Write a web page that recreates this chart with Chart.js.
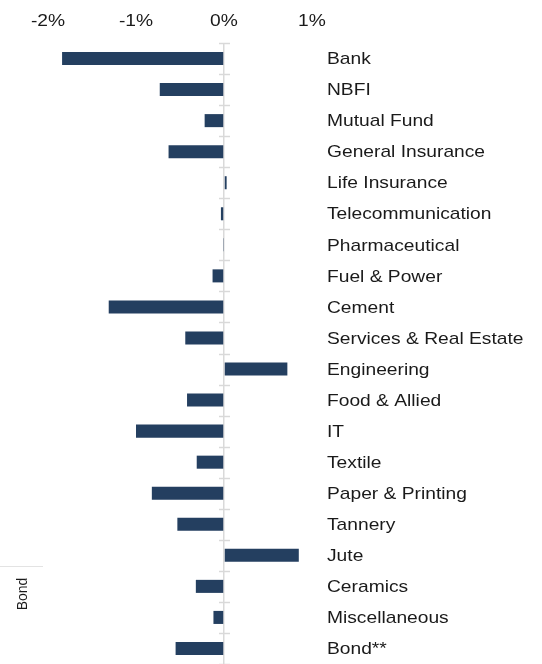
<!DOCTYPE html>
<html>
<head>
<meta charset="utf-8">
<script src="https://cdn.jsdelivr.net/npm/chart.js@4"></script>
<style>
  html, body { margin: 0; padding: 0; background: #fff; }
  #wrap { position: relative; width: 542px; height: 664px; }
</style>
</head>
<body>
<div id="wrap"><canvas id="sectorChart"></canvas></div>
<script>
const sectors = ['Bank', 'NBFI', 'Mutual Fund', 'General Insurance', 'Life Insurance',
  'Telecommunication', 'Pharmaceutical', 'Fuel & Power', 'Cement', 'Services & Real Estate',
  'Engineering', 'Food & Allied', 'IT', 'Textile', 'Paper & Printing', 'Tannery', 'Jute',
  'Ceramics', 'Miscellaneous', 'Bond**'];
const changes = [-1.84, -0.73, -0.22, -0.63, 0.03, -0.035, -0.005, -0.13, -1.31, -0.44,
  0.72, -0.42, -1.0, -0.31, -0.82, -0.53, 0.85, -0.32, -0.12, -0.55];
const xTicks = [-2, -1, 0, 1];

const colorBar  = '#243f60';
const colorText = '#1a1a1a';
const colorAxis = '#d9d9d9';
const fontFamily = '"Liberation Sans", Arial, sans-serif';
const textFont = '17px ' + fontFamily;
const stretch = 1.13;   // the source labels are a little wider than plain Arial

function wideText(ctx, text, x, y, align) {
  ctx.save();
  ctx.translate(x, y);
  ctx.scale(stretch, 1);
  ctx.textAlign = align;
  ctx.fillText(text, 0, 0);
  ctx.restore();
}

// tick labels, small ticks on the zero line, and the stray "Bond" note
const decorations = {
  id: 'decorations',
  afterDraw(chart) {
    const ctx = chart.ctx;
    const xs = chart.scales.x;
    const ys = chart.scales.y;
    const x0 = xs.getPixelForValue(0);
    const band = ys.getPixelForValue(1) - ys.getPixelForValue(0);
    ctx.save();
    ctx.strokeStyle = colorAxis;
    ctx.lineWidth = 1.5;
    for (let i = 0; i <= sectors.length; i++) {
      const py = Math.round(ys.getPixelForValue(i) - band / 2) + 0.5;
      ctx.beginPath();
      ctx.moveTo(x0 - 5, py);
      ctx.lineTo(x0 + 6, py);
      ctx.stroke();
    }

    ctx.fillStyle = colorText;
    ctx.font = textFont;
    ctx.textBaseline = 'middle';
    ys.ticks.forEach((t, i) => {
      wideText(ctx, ys.getLabelForValue(t.value), ys.left + 15, ys.getPixelForValue(t.value) + 1, 'left');
    });
    xs.ticks.forEach(t => {
      wideText(ctx, t.value + '%', xs.getPixelForValue(t.value), 21, 'center');
    });

    ctx.strokeStyle = '#e3e3e3';
    ctx.lineWidth = 1;
    ctx.beginPath();
    ctx.moveTo(0, 566.5);
    ctx.lineTo(43, 566.5);
    ctx.stroke();
    ctx.translate(23, 594);
    ctx.rotate(-Math.PI / 2);
    ctx.font = '14px ' + fontFamily;
    ctx.textAlign = 'center';
    ctx.fillText('Bond', 0, 0);
    ctx.restore();
  }
};

new Chart(document.getElementById('sectorChart'), {
  type: 'bar',
  data: {
    labels: sectors,
    datasets: [{
      data: changes,
      backgroundColor: colorBar,
      borderWidth: 0,
      barPercentage: 0.42,
      categoryPercentage: 1
    }]
  },
  options: {
    indexAxis: 'y',
    responsive: true,
    maintainAspectRatio: false,
    animation: false,
    layout: { padding: { left: 4, right: 0, top: 0, bottom: 0 } },
    plugins: { legend: { display: false }, tooltip: { enabled: false } },
    scales: {
      x: {
        position: 'top',
        min: -2.5,
        max: 1,
        afterBuildTicks: s => { s.ticks = xTicks.map(v => ({ value: v })); },
        afterFit: s => { s.height = 43; s.paddingLeft = 0; s.paddingRight = 0; },
        border: { display: false },
        grid: {
          drawTicks: false,
          lineWidth: 1.5,
          color: c => (c.tick && c.tick.value === 0 ? colorAxis : 'rgba(0,0,0,0)')
        },
        ticks: { color: 'rgba(0,0,0,0)', maxRotation: 0, font: { family: fontFamily, size: 17 } }
      },
      y: {
        position: 'right',
        border: { display: false },
        grid: { display: false, drawTicks: false },
        afterFit: s => { s.width = 230; s.paddingTop = 0; s.paddingBottom = 0; },
        ticks: {
          color: 'rgba(0,0,0,0)',
          padding: 15,
          autoSkip: false,
          font: { family: fontFamily, size: 17 }
        }
      }
    }
  },
  plugins: [decorations]
});
</script>
</body>
</html>
